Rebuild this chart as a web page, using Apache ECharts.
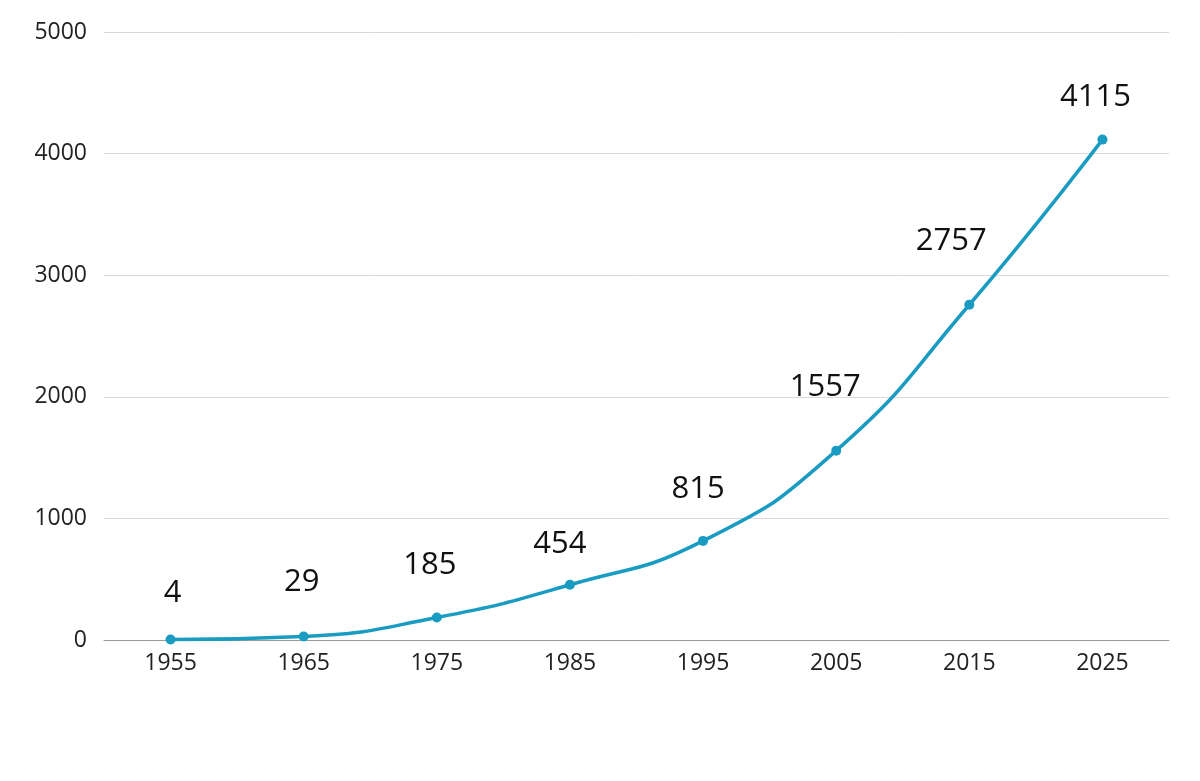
<!DOCTYPE html>
<html><head><meta charset="utf-8">
<script src="https://cdn.jsdelivr.net/npm/echarts@6/dist/echarts.min.js"></script>
<style>html,body{margin:0;padding:0;background:#fff}#c{width:1200px;height:781px}</style>
</head><body><div id="c"></div>
<script>
const categories = ['1955','1965','1975','1985','1995','2005','2015','2025'];
const values = [4, 29, 185, 454, 815, 1557, 2757, 4115];
const yTicks = [0, 1000, 2000, 3000, 4000, 5000];
// label nudges (style only, in pixels)
const labelOffsets = [[2,-6],[-2,-14],[-7,-12],[-10,0],[-5,-11],[-11,-23],[-18,-23],[-7,-2]];

const chart = echarts.init(document.getElementById('c'));
chart.setOption({
  animation: false,
  textStyle: { fontFamily: 'Open Sans' },
  grid: { left: 104, right: 31, top: 32, bottom: 141, containLabel: false },
  xAxis: {
    type: 'category', data: categories, boundaryGap: true,
    axisLine: { lineStyle: { color: '#999', width: 1 } },
    axisTick: { show: false },
    axisLabel: { color: '#222', fontSize: 23, margin: 12, fontFamily: 'Open Sans' }
  },
  yAxis: {
    type: 'value', min: yTicks[0], max: yTicks[yTicks.length - 1], interval: 1000,
    axisLine: { show: false }, axisTick: { show: false },
    splitLine: { lineStyle: { color: '#d9d9d9', width: 1 } },
    axisLabel: { color: '#222', fontSize: 23, margin: 17, fontFamily: 'Open Sans', formatter: v => String(v) }
  },
  series: [{
    type: 'line', smooth: true,
    data: values.map((v, i) => ({ value: v, label: { offset: labelOffsets[i] } })),
    symbol: 'circle', symbolSize: 10,
    lineStyle: { color: '#1a9bc2', width: 3.5 },
    itemStyle: { color: '#1a9bc2' },
    label: { show: true, position: 'top', distance: 20, fontSize: 31, color: '#111', fontFamily: 'Open Sans' }
  }]
});
</script></body></html>
